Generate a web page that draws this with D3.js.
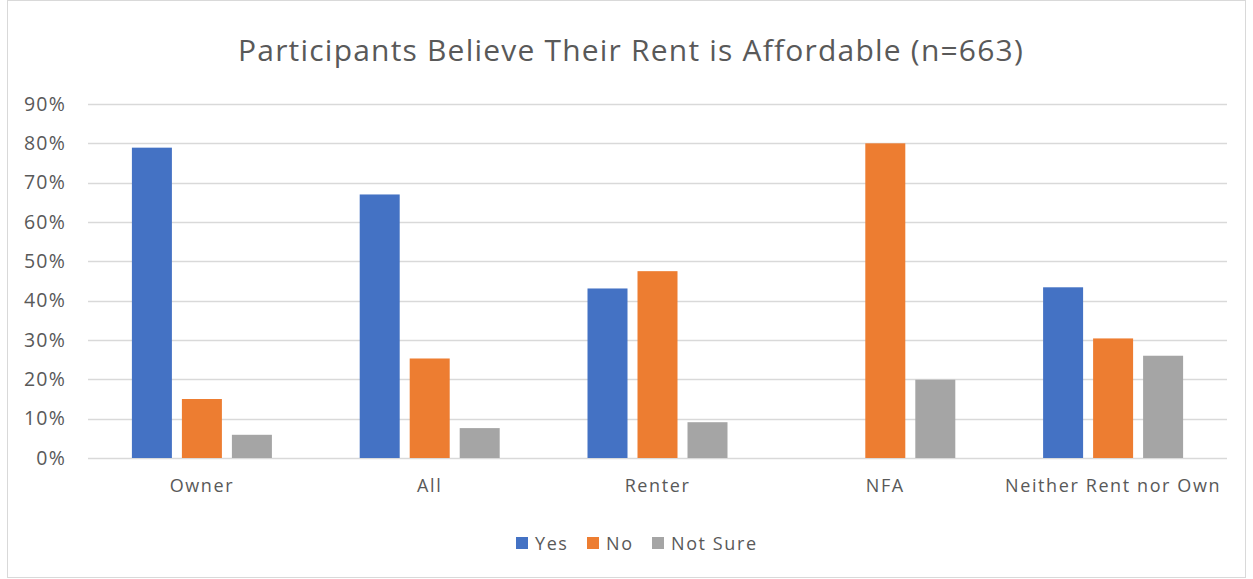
<!DOCTYPE html>
<html><head><meta charset="utf-8">
<script src="https://cdn.jsdelivr.net/npm/d3@7"></script>
<style>body{margin:0;background:#fff}svg{display:block}text{font-family:"Open Sans",sans-serif;fill:#595959}</style>
</head><body><svg id="c" width="1253" height="579"></svg>
<script>
const title = "Participants Believe Their Rent is Affordable (n=663)";
const categories = ["Owner","All","Renter","NFA","Neither Rent nor Own"];
const seriesNames = ["Yes","No","Not Sure"];
const colors = ["#4472C4","#ED7D31","#A5A5A5"];
const yes = [0.789, 0.670, 0.431, 0, 0.434];
const no = [0.150, 0.253, 0.475, 0.800, 0.304];
const notSure = [0.059, 0.076, 0.091, 0.199, 0.260];
const yTicks = [0,0.1,0.2,0.3,0.4,0.5,0.6,0.7,0.8,0.9];

(function(){
const svg = d3.select("#c");
svg.append("rect").attr("x",7.5).attr("y",0.5).attr("width",1238).attr("height",577).attr("fill","#fff").attr("stroke","#D9D9D9");

const pLeft=88,pRight=1227,pTop=104,pBottom=458;
const x = d3.scaleBand().domain(categories).range([pLeft,pRight]);
const y = d3.scaleLinear().domain([0,0.9]).range([pBottom,pTop]);
const barW = 40, step = 50;

svg.append("g").selectAll("line").data(yTicks).join("line")
  .attr("x1",pLeft).attr("x2",pRight).attr("y1",d=>Math.round(y(d))+0.5).attr("y2",d=>Math.round(y(d))+0.5)
  .attr("stroke","#D9D9D9").attr("stroke-width",1.3);

const yAxis = d3.axisLeft(y).tickValues(yTicks).tickFormat(d3.format(".0%")).tickSize(0).tickPadding(22);
const ga = svg.append("g").attr("transform",`translate(${pLeft},0)`).call(yAxis);
ga.select(".domain").remove();
ga.selectAll("text").style("font-size","19.5px").style("letter-spacing","1.2px").attr("fill","#595959");

const xAxis = d3.axisBottom(x).tickSize(0).tickPadding(21);
const gx = svg.append("g").attr("transform",`translate(0,${pBottom})`).call(xAxis);
gx.select(".domain").remove();
gx.selectAll("text").style("font-size","18px").style("letter-spacing","1.6px").attr("fill","#595959");

const data = [yes,no,notSure];
data.forEach((vals,si)=>{
  svg.append("g").selectAll("rect").data(categories).join("rect")
    .attr("x",c=>x(c)+x.bandwidth()/2 + (si-1)*step - barW/2)
    .attr("width",barW)
    .attr("y",(c,i)=>y(vals[i]))
    .attr("height",(c,i)=>pBottom-y(vals[i]))
    .attr("fill",colors[si]);
});

svg.append("text").attr("x",631).attr("y",61).attr("text-anchor","middle")
  .style("font-size","30px").style("letter-spacing","1.2px").text(title);

const legX = [516,587,652];
const lg = svg.append("g");
seriesNames.forEach((n,i)=>{
  lg.append("rect").attr("x",legX[i]).attr("y",537).attr("width",12).attr("height",12).attr("fill",colors[i]);
  lg.append("text").attr("x",legX[i]+19).attr("y",550).style("font-size","18px").style("letter-spacing","1.6px").text(n);
});
})();
</script></body></html>
